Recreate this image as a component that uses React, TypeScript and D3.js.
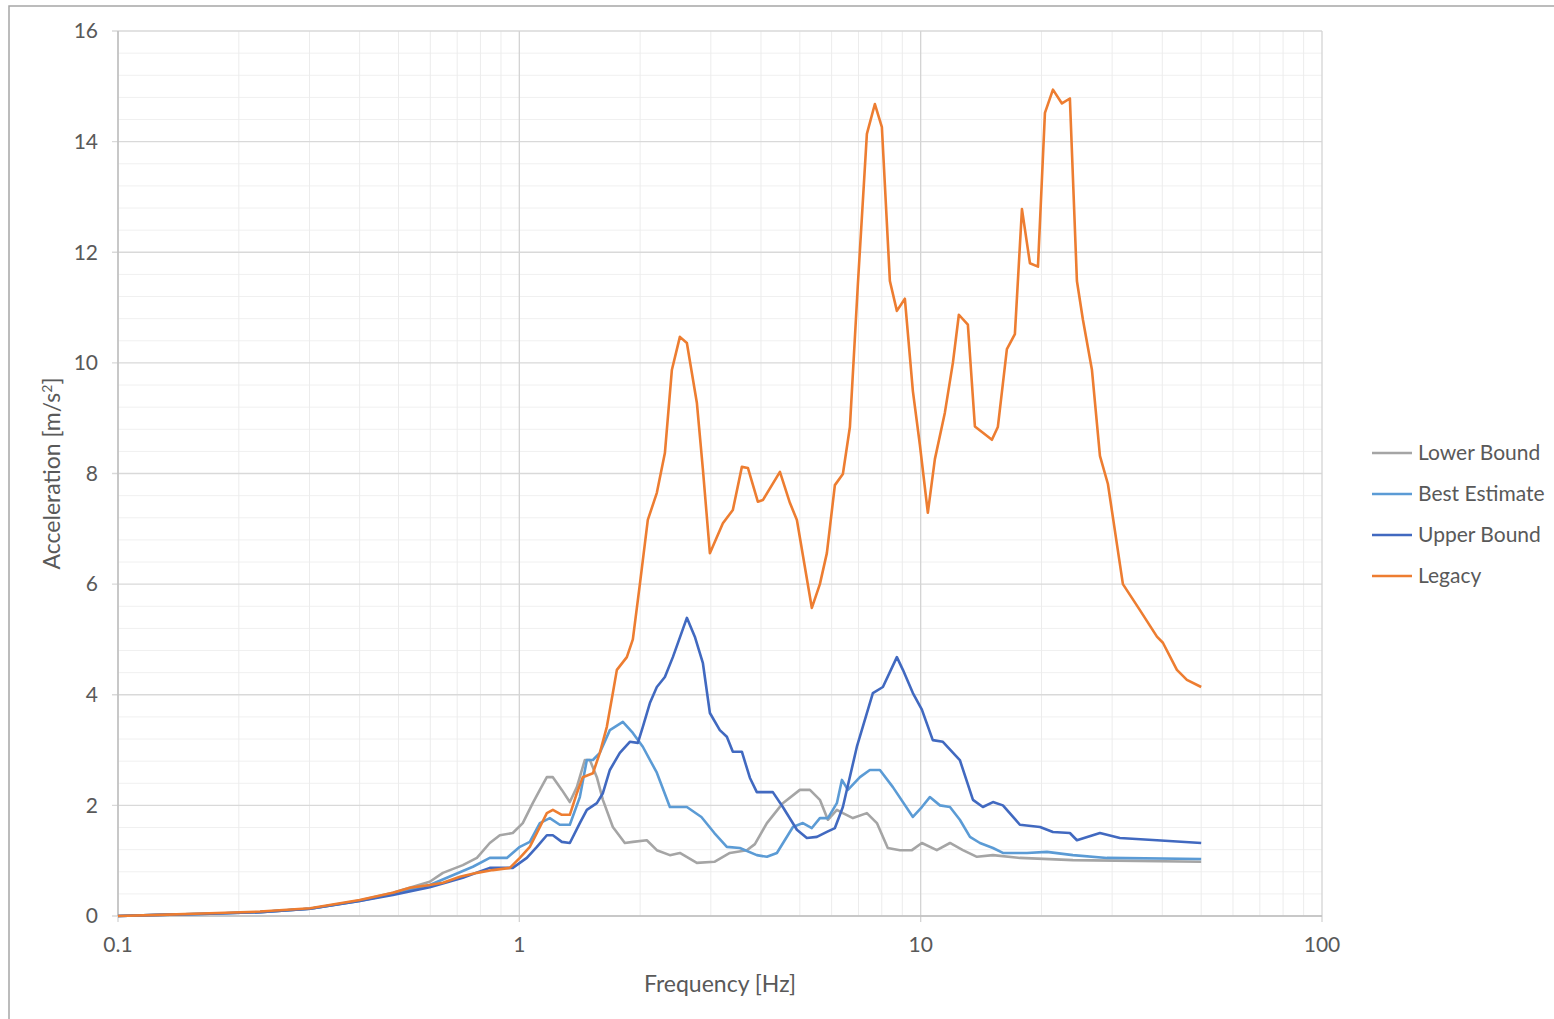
import React from 'react';
import * as d3 from 'd3';

// [frequency Hz, acceleration m/s2]
const lowerBound: [number, number][] = [
  [0.1, 0], [0.127, 0.02], [0.169, 0.04], [0.226, 0.07], [0.301, 0.13], [0.4, 0.28], [0.484, 0.42],
  [0.598, 0.62], [0.645, 0.78], [0.723, 0.92], [0.784, 1.05], [0.844, 1.32], [0.894, 1.46], [0.963, 1.5],
  [1.02, 1.68], [1.08, 2.04], [1.125, 2.28], [1.171, 2.51], [1.212, 2.51], [1.276, 2.28], [1.336, 2.06],
  [1.391, 2.33], [1.456, 2.82], [1.499, 2.82], [1.56, 2.51], [1.615, 2.1], [1.71, 1.61], [1.832, 1.32],
  [1.918, 1.34], [2.078, 1.37], [2.201, 1.19], [2.372, 1.1], [2.512, 1.14], [2.769, 0.96], [3.062, 0.98],
  [3.346, 1.14], [3.689, 1.19], [3.863, 1.3], [4.139, 1.68], [4.535, 2.04], [5.0, 2.28], [5.297, 2.28],
  [5.609, 2.1], [5.872, 1.74], [6.183, 1.92], [6.4, 1.86], [6.78, 1.77], [7.345, 1.86], [7.78, 1.68],
  [8.28, 1.23], [8.88, 1.19], [9.51, 1.19], [10.07, 1.32], [10.97, 1.19], [11.83, 1.32], [12.74, 1.19],
  [13.81, 1.07], [15.14, 1.1], [17.67, 1.05], [23.95, 1.01], [50, 0.98],
];

const bestEstimate: [number, number][] = [
  [0.1, 0], [0.127, 0.02], [0.169, 0.04], [0.226, 0.07], [0.301, 0.13], [0.4, 0.27], [0.484, 0.4],
  [0.598, 0.56], [0.766, 0.89], [0.844, 1.05], [0.931, 1.05], [1.003, 1.25], [1.062, 1.34], [1.125, 1.68],
  [1.191, 1.77], [1.261, 1.65], [1.336, 1.65], [1.415, 2.15], [1.473, 2.82], [1.525, 2.82], [1.587, 2.95],
  [1.681, 3.36], [1.811, 3.51], [1.918, 3.31], [2.031, 3.06], [2.201, 2.59], [2.372, 1.97], [2.615, 1.97],
  [2.842, 1.79], [3.062, 1.5], [3.289, 1.25], [3.544, 1.23], [3.906, 1.1], [4.139, 1.07], [4.383, 1.14],
  [4.805, 1.61], [5.088, 1.68], [5.356, 1.59], [5.609, 1.77], [5.872, 1.77], [6.183, 2.04], [6.364, 2.46],
  [6.587, 2.28], [7.058, 2.51], [7.47, 2.64], [7.914, 2.64], [8.527, 2.33], [9.563, 1.79], [10.07, 1.97],
  [10.54, 2.15], [11.17, 2.0], [11.83, 1.97], [12.52, 1.74], [13.27, 1.43], [14.05, 1.32], [15.14, 1.23],
  [16.03, 1.14], [18.4, 1.14], [20.63, 1.16], [23.95, 1.1], [29.11, 1.05], [50, 1.03],
];

const upperBound: [number, number][] = [
  [0.1, 0], [0.127, 0.02], [0.169, 0.04], [0.226, 0.07], [0.301, 0.13], [0.4, 0.27], [0.484, 0.38],
  [0.598, 0.52], [0.723, 0.69], [0.844, 0.87], [0.963, 0.87], [1.044, 1.05], [1.106, 1.25], [1.171, 1.46],
  [1.212, 1.46], [1.276, 1.34], [1.336, 1.32], [1.415, 1.68], [1.473, 1.92], [1.56, 2.04], [1.615, 2.22],
  [1.681, 2.64], [1.78, 2.95], [1.885, 3.15], [1.974, 3.13], [2.031, 3.42], [2.115, 3.85], [2.201, 4.14],
  [2.305, 4.32], [2.413, 4.68], [2.615, 5.39], [2.737, 5.05], [2.867, 4.57], [2.984, 3.67], [3.159, 3.36],
  [3.289, 3.24], [3.404, 2.97], [3.585, 2.97], [3.753, 2.5], [3.906, 2.24], [4.282, 2.24], [4.535, 1.97],
  [4.916, 1.56], [5.205, 1.41], [5.514, 1.43], [5.838, 1.52], [6.113, 1.59], [6.4, 1.97], [6.935, 3.06],
  [7.601, 4.03], [8.052, 4.14], [8.724, 4.68], [9.031, 4.45], [9.563, 4.03], [10.07, 3.73], [10.72, 3.18],
  [11.36, 3.15], [12.52, 2.82], [13.5, 2.1], [14.29, 1.97], [15.14, 2.06], [16.03, 2.0], [17.67, 1.65],
  [19.83, 1.61], [21.36, 1.52], [23.54, 1.5], [24.51, 1.37], [27.97, 1.5], [31.36, 1.41], [38.79, 1.37],
  [50, 1.32],
];

const legacy: [number, number][] = [
  [0.1, 0], [0.127, 0.02], [0.169, 0.05], [0.226, 0.08], [0.301, 0.14], [0.4, 0.29], [0.484, 0.42],
  [0.534, 0.51], [0.598, 0.56], [0.645, 0.6], [0.711, 0.71], [0.784, 0.78], [0.859, 0.83], [0.947, 0.87],
  [1.003, 1.05], [1.062, 1.25], [1.106, 1.5], [1.171, 1.86], [1.212, 1.92], [1.276, 1.83], [1.336, 1.83],
  [1.391, 2.22], [1.439, 2.51], [1.525, 2.58], [1.587, 2.95], [1.652, 3.42], [1.71, 4.03], [1.75, 4.45],
  [1.853, 4.68], [1.918, 5.0], [1.997, 6.0], [2.09, 7.16], [2.201, 7.65], [2.305, 8.37], [2.399, 9.87],
  [2.512, 10.47], [2.615, 10.36], [2.769, 9.28], [2.867, 8.07], [2.984, 6.56], [3.215, 7.1], [3.404, 7.34],
  [3.585, 8.12], [3.711, 8.1], [3.929, 7.49], [4.044, 7.52], [4.46, 8.03], [4.722, 7.47], [4.916, 7.16],
  [5.356, 5.57], [5.609, 6.0], [5.838, 6.56], [6.113, 7.79], [6.4, 7.99], [6.663, 8.84], [6.976, 11.43],
  [7.345, 14.14], [7.69, 14.68], [8.005, 14.26], [8.381, 11.48], [8.724, 10.94], [9.133, 11.16],
  [9.563, 9.49], [9.954, 8.52], [10.42, 7.29], [10.85, 8.26], [11.49, 9.1], [12.03, 10.0], [12.45, 10.87],
  [13.11, 10.69], [13.65, 8.85], [15.05, 8.61], [15.57, 8.84], [16.4, 10.25], [17.17, 10.52],
  [17.88, 12.78], [18.72, 11.8], [19.6, 11.74], [20.4, 14.52], [21.36, 14.94], [22.49, 14.69],
  [23.54, 14.78], [24.51, 11.48], [25.37, 10.78], [26.72, 9.87], [27.97, 8.32], [29.28, 7.81],
  [31.91, 6.0], [35.18, 5.53], [38.79, 5.05], [40.14, 4.94], [43.5, 4.45], [46.06, 4.27], [50, 4.14],
];

const yTicks = [0, 2, 4, 6, 8, 10, 12, 14, 16];
const xTicks = [0.1, 1, 10, 100];

const series = [
  { name: 'Lower Bound', color: '#a5a5a5', data: lowerBound },
  { name: 'Best Estimate', color: '#5b9bd5', data: bestEstimate },
  { name: 'Upper Bound', color: '#4169c0', data: upperBound },
  { name: 'Legacy', color: '#ed7d31', data: legacy },
];

const font = 'Lato, "Open Sans", sans-serif';
const textColor = '#595959';

export default function App() {
  const width = 1554;
  const height = 1019;
  const margin = { top: 31, right: 232, bottom: 103, left: 118 };

  const x = d3.scaleLog().domain([0.1, 100]).range([margin.left, width - margin.right]);
  const y = d3.scaleLinear().domain([0, 16]).range([height - margin.bottom, margin.top]);

  const line = d3.line<[number, number]>()
    .x((d) => x(d[0]))
    .y((d) => y(d[1]));

  // minor grid: 2..9 per decade, and every 0.4 on y
  const xMinor: number[] = [];
  [0.1, 1, 10].forEach((dec) => {
    for (let k = 2; k <= 9; k += 1) xMinor.push(dec * k);
  });
  const yMinor = d3.range(0, 16.01, 0.4).filter((v) => Math.abs(v / 2 - Math.round(v / 2)) > 0.01);

  const [x0, x1] = x.range();
  const [y0, y1] = y.range();

  return (
    <svg
      width={width}
      height={height}
      style={{ position: 'absolute', left: 0, top: 0, background: '#fff' }}
      fontFamily={font}
    >
      <rect x={9} y={6} width={1600} height={1100} fill="#fff" stroke="#a6a6a6" strokeWidth={1.5} />

      {/* minor gridlines */}
      {yMinor.map((v) => (
        <line key={`ym${v}`} x1={x0} x2={x1} y1={y(v)} y2={y(v)} stroke="#f0f0f0" strokeWidth={1} />
      ))}
      {xMinor.map((v) => (
        <line key={`xm${v}`} x1={x(v)} x2={x(v)} y1={y0} y2={y1} stroke="#ececec" strokeWidth={1} />
      ))}

      {/* major gridlines */}
      {yTicks.map((v) => (
        <line key={`yg${v}`} x1={x0 - 6} x2={x1} y1={y(v)} y2={y(v)} stroke="#d9d9d9" strokeWidth={1.3} />
      ))}
      {xTicks.map((v) => (
        <line key={`xg${v}`} x1={x(v)} x2={x(v)} y1={y1} y2={y0 + 6} stroke="#d4d4d4" strokeWidth={1.3} />
      ))}

      {/* axis lines */}
      <line x1={x0} x2={x0} y1={y1} y2={y0} stroke="#bfbfbf" strokeWidth={1.5} />
      <line x1={x0} x2={x1} y1={y0} y2={y0} stroke="#bfbfbf" strokeWidth={1.5} />

      {/* tick labels */}
      {yTicks.map((v) => (
        <text key={`yl${v}`} x={x0 - 20} y={y(v)} dy="0.35em" textAnchor="end" fontSize={21} fill={textColor}>
          {v}
        </text>
      ))}
      {xTicks.map((v) => (
        <text key={`xl${v}`} x={x(v)} y={y0 + 29} dy="0.35em" textAnchor="middle" fontSize={21} fill={textColor}>
          {v}
        </text>
      ))}

      {/* axis titles */}
      <text x={(x0 + x1) / 2} y={984} dy="0.35em" textAnchor="middle" fontSize={23} fill={textColor}>
        Frequency [Hz]
      </text>
      <text
        transform={`translate(52, ${(y0 + y1) / 2}) rotate(-90)`}
        dy="0.35em"
        textAnchor="middle"
        fontSize={23}
        fill={textColor}
      >
        Acceleration [m/s
        <tspan baselineShift="super" fontSize={14}>2</tspan>
        ]
      </text>

      {/* series */}
      {series.map((s) => (
        <path
          key={s.name}
          d={line(s.data) || ''}
          fill="none"
          stroke={s.color}
          strokeWidth={2.6}
          strokeLinejoin="round"
        />
      ))}

      {/* legend */}
      {series.map((s, i) => (
        <g key={`lg${s.name}`} transform={`translate(1372, ${453 + i * 41})`}>
          <line x1={0} x2={40} y1={0} y2={0} stroke={s.color} strokeWidth={2.6} />
          <text x={46} y={0} dy="0.35em" fontSize={21} fill={textColor}>{s.name}</text>
        </g>
      ))}
    </svg>
  );
}
